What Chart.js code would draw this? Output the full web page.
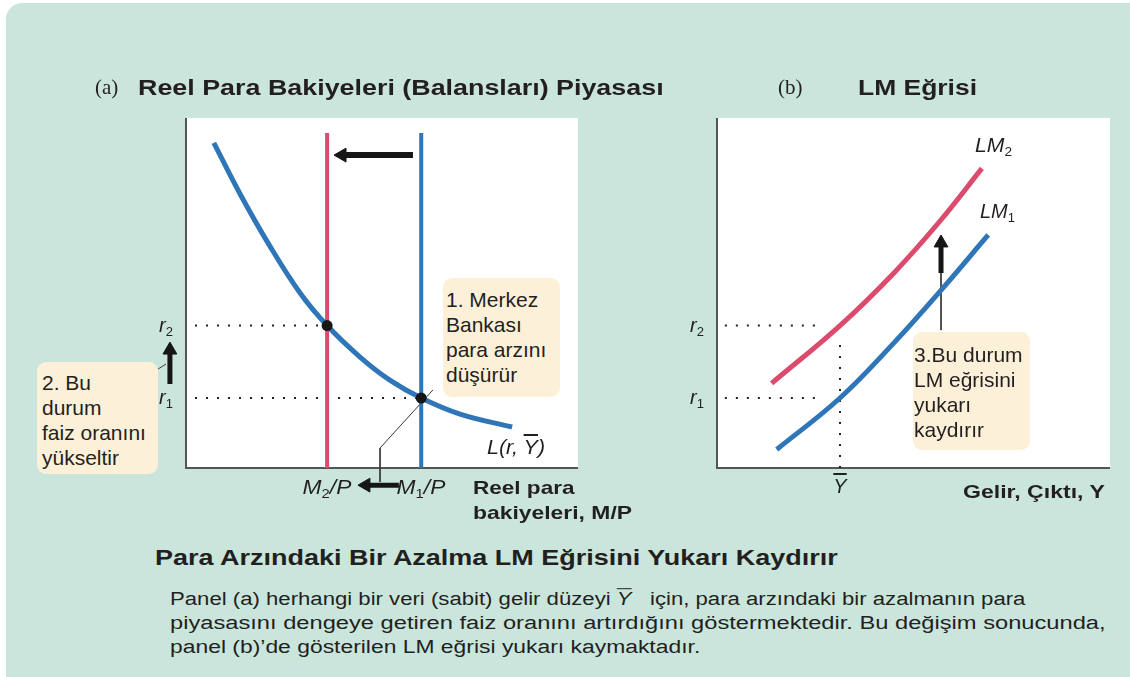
<!DOCTYPE html>
<html lang="tr">
<head>
<meta charset="utf-8">
<title>LM eğrisi</title>
<script src="https://cdn.jsdelivr.net/npm/chart.js@4.4.1/dist/chart.umd.min.js"></script>
<style>
html, body { margin: 0; padding: 0; background: #fff; }
#page { position: relative; width: 1130px; height: 677px; overflow: hidden; font-family: "Liberation Sans", Arial, sans-serif; color: #231f20; }
#panel { position: absolute; left: 6px; top: 3px; width: 1140px; height: 690px; background: #cae6dc; border-top-left-radius: 16px; }
canvas { position: absolute; }
#chartA { left: 0; top: 100px; }
#chartB { left: 660px; top: 100px; }
.t { position: absolute; white-space: nowrap; line-height: 1.2; }
.title { font-weight: bold; font-size: 22px; }
.paren { font-family: "Liberation Serif", "DejaVu Serif", serif; font-size: 21px; }
.para { font-size: 18px; }
.axis { font-weight: bold; font-size: 19px; }
.it { font-style: italic; font-size: 20px; }
.it sub { font-size: 13px; vertical-align: -4px; font-style: normal; }
.ov { text-decoration: overline; font-style: italic; }
.note { position: absolute; background: #fdf0d9; border-radius: 9px; font-size: 21px; line-height: 25px; box-sizing: border-box; white-space: nowrap; }
</style>
</head>
<body>
<div id="page">
  <div id="panel"></div>
  <canvas id="chartA" width="660" height="440"></canvas>
  <canvas id="chartB" width="470" height="440"></canvas>
</div>
<script>
// panel (a): money demand L(r, Y) and the two supply levels
const demandX = [0.71, 1.38, 2.14, 2.91, 3.60, 4.44, 5.20, 6.00, 6.99, 8.32];
const demandY = [9.29, 7.83, 6.34, 5.00, 4.07, 3.17, 2.51, 2.00, 1.54, 1.17];
const supplyX = [3.60, 6.00];
const supplyLabels = ["M<sub>2</sub>/P", "M<sub>1</sub>/P"];
const supplyTop = 9.57;
const rateLevels = [2.00, 4.07];
const rateLabels = ["r<sub>1</sub>", "r<sub>2</sub>"];
const equilibriumRates = [4.07, 2.00];   // at M2/P and M1/P

// panel (b): LM curves
const lm1X = [1.52, 3.13, 4.49, 5.67, 6.90];
const lm1Y = [0.53, 2.00, 3.56, 5.04, 6.66];
const lm2X = [1.39, 3.13, 4.49, 5.67, 6.74];
const lm2Y = [2.42, 4.07, 5.56, 7.05, 8.56];
const incomeLevel = 3.13;
const incomeGuideTop = 3.66;

// guides, arrows and leader lines (data units)
const guideStartA = 0.23;
const guideStartB = 0.20, guideEndB = 2.69;
const supplyArrowX = [5.79, 3.98], supplyArrowY = [8.94, 8.94];
const bottomArrowX = [5.43, 4.59], bottomArrowY = [-0.49, -0.49];
const rateArrowX = [-0.41, -0.41], rateArrowY = [2.40, 3.37];
const lmArrowX = [5.70, 5.70], lmArrowY = [5.57, 6.43];
const leaderAX = [6.30, 4.95, 4.95], leaderAY = [2.23, 0.57, -0.40];
const leaderNoteX = [-0.71, -0.51], leaderNoteY = [2.83, 2.97];
const leaderLmX = [5.70, 5.70], leaderLmY = [5.57, 3.94];

const BLUE = "#2f76b9", RED = "#dc4a6e", INK = "#161616";

const pts = (xs, ys) => xs.map((x, i) => ({ x, y: ys[i] }));
const flat = (xs, y) => xs.map(x => ({ x, y }));

function curve(data, color, width, order) {
    return { data, borderColor: color, borderWidth: width, pointRadius: 0, tension: 0.4, clip: false, order };
}
function dotted(data) {
    return { data, borderColor: "#222", borderWidth: 2, borderDash: [2, 9], pointRadius: 0, clip: false, order: 6 };
}
function leader(data) {
    return { data, borderColor: "#3a3a3a", borderWidth: 1, pointRadius: 0, clip: false, order: 4 };
}
function arrow(data, rotation, width) {
    return {
        data, borderColor: INK, borderWidth: width, clip: false, order: 1,
        pointStyle: "triangle", pointRotation: rotation, pointRadius: [0, 8],
        pointBackgroundColor: INK, pointBorderColor: INK, pointBorderWidth: 1
    };
}

// white plot box and the two axis lines, from 0 to 10 on both scales
const plotBox = {
    id: "plotBox",
    beforeDraw(chart) {
        const { ctx } = chart, sx = chart.scales.x, sy = chart.scales.y;
        const l = sx.getPixelForValue(0), r = sx.getPixelForValue(10);
        const t = sy.getPixelForValue(10), b = sy.getPixelForValue(0);
        ctx.save();
        ctx.fillStyle = "#fff";
        ctx.fillRect(l, t, r - l, b - t);
        ctx.restore();
    },
    beforeDatasetsDraw(chart) {
        const { ctx } = chart, sx = chart.scales.x, sy = chart.scales.y;
        const l = sx.getPixelForValue(0), r = sx.getPixelForValue(10);
        const t = sy.getPixelForValue(10), b = sy.getPixelForValue(0);
        ctx.save();
        ctx.strokeStyle = "#555";
        ctx.lineWidth = 2;
        ctx.beginPath();
        ctx.moveTo(l, t);
        ctx.lineTo(l, b);
        ctx.lineTo(r, b);
        ctx.stroke();
        ctx.restore();
    }
};

function options(padding, min) {
    return {
        responsive: false, animation: false, devicePixelRatio: 1, events: [],
        layout: { padding },
        scales: {
            x: { type: "linear", min, max: 10, display: false },
            y: { type: "linear", min, max: 10, display: false }
        },
        plugins: { legend: { display: false }, tooltip: { enabled: false } }
    };
}

const chartA = new Chart(document.getElementById("chartA"), {
    type: "line",
    data: {
        datasets: [
            { data: pts(supplyX, equilibriumRates), showLine: false, pointRadius: 5.5, pointBackgroundColor: INK, pointBorderWidth: 0, clip: false, order: 0 },
            arrow(pts(supplyArrowX, supplyArrowY), 270, 6),
            arrow(pts(bottomArrowX, bottomArrowY), 270, 5),
            arrow(pts(rateArrowX, rateArrowY), 0, 5),
            leader(pts(leaderAX, leaderAY)),
            leader(pts(leaderNoteX, leaderNoteY)),
            curve(pts(demandX, demandY), BLUE, 5, 2),
            curve([{ x: supplyX[0], y: 0 }, { x: supplyX[0], y: supplyTop }], RED, 4, 3),
            curve([{ x: supplyX[1], y: 0 }, { x: supplyX[1], y: supplyTop }], BLUE, 4, 3),
            dotted(flat([guideStartA, supplyX[0]], rateLevels[1])),
            dotted(flat([guideStartA, supplyX[1]], rateLevels[0]))
        ]
    },
    options: options({ left: 146.8, right: 82, top: 18, bottom: 37 }, -1),
    plugins: [plotBox]
});

const chartB = new Chart(document.getElementById("chartB"), {
    type: "line",
    data: {
        datasets: [
            arrow(pts(lmArrowX, lmArrowY), 0, 5),
            leader(pts(leaderLmX, leaderLmY)),
            curve(pts(lm2X, lm2Y), RED, 5, 2),
            curve(pts(lm1X, lm1Y), BLUE, 5, 2),
            dotted(flat([guideStartB, guideEndB], rateLevels[1])),
            dotted(flat([guideStartB, guideEndB], rateLevels[0])),
            dotted([{ x: incomeLevel, y: 0 }, { x: incomeLevel, y: incomeGuideTop }])
        ]
    },
    options: options({ left: 57, right: 20, top: 18, bottom: 72 }, 0),
    plugins: [plotBox]
});

// --- text ---
const page = document.getElementById("page");

function label(html, cls, x, y, anchor, width) {
    const d = document.createElement("div");
    d.className = "t " + cls;
    d.innerHTML = html;
    d.style.left = x + "px";
    d.style.top = y + "px";
    page.appendChild(d);
    const s = width ? width / d.offsetWidth : 1;
    if (anchor === "center") {
        d.style.transformOrigin = "center center";
        d.style.transform = `translate(-50%,-50%) scaleX(${s})`;
    } else {
        d.style.transformOrigin = "left center";
        d.style.transform = `translateY(-50%) scaleX(${s})`;
    }
    return d;
}

function note(lines, x, y, w, h, padLeft, padTop) {
    const d = document.createElement("div");
    d.className = "note";
    Object.assign(d.style, { left: x + "px", top: y + "px", width: w + "px", height: h + "px", paddingLeft: padLeft + "px", paddingTop: padTop + "px" });
    d.innerHTML = lines.join("<br>");
    page.appendChild(d);
}

// tick-like labels placed through the chart scales
function ticks(chart, offX, offY) {
    const sx = chart.scales.x, sy = chart.scales.y;
    rateLevels.forEach((r, i) => label(rateLabels[i], "it", offX + sx.getPixelForValue(0) - 20, offY + sy.getPixelForValue(r), "center"));
    return { sx, sy };
}
const A = ticks(chartA, 0, 100);
const B = ticks(chartB, 660, 100);
supplyX.forEach((m, i) => label(supplyLabels[i], "it", A.sx.getPixelForValue(m), 100 + A.sy.getPixelForValue(0) + 20, "center", 49));
label('<span class="ov">Y</span>', "it", 660 + B.sx.getPixelForValue(incomeLevel), 100 + B.sy.getPixelForValue(0) + 18, "center");

label('L(r, <span class="ov">Y</span>)', "it", 487, 447, "left", 58);
label("LM<sub>2</sub>", "it", 975, 146, "left", 37);
label("LM<sub>1</sub>", "it", 980, 212, "left", 35);

label("Reel para", "axis", 473, 488, "left", 102);
label("bakiyeleri, M/P", "axis", 473, 513, "left", 159);
label("Gelir, Çıktı, Y", "axis", 963, 492, "left", 142);

label("(a)", "paren", 95, 88, "left");
label("Reel Para Bakiyeleri (Balansları) Piyasası", "title", 138, 88, "left", 525);
label("(b)", "paren", 778, 88, "left");
label("LM Eğrisi", "title", 858, 88, "left", 119);

label("Para Arzındaki Bir Azalma LM Eğrisini Yukarı Kaydırır", "title", 155, 558, "left", 683);
label('Panel (a) herhangi bir veri (sabit) gelir düzeyi <span class="ov">Y</span>&nbsp;&nbsp; için, para arzındaki bir azalmanın para', "para", 170, 600, "left", 855);
label("piyasasını dengeye getiren faiz oranını artırdığını göstermektedir. Bu değişim sonucunda,", "para", 170, 624, "left", 935);
label("panel (b)’de gösterilen LM eğrisi yukarı kaymaktadır.", "para", 170, 648, "left", 530);

note(["1. Merkez", "Bankası", "para arzını", "düşürür"], 443, 278, 117, 119, 3, 9);
note(["2. Bu", "durum", "faiz oranını", "yükseltir"], 37, 362, 121, 112, 5, 8);
note(["3.Bu durum", "LM eğrisini", "yukarı", "kaydırır"], 913, 332, 117, 118, 1, 10);
</script>
</body>
</html>
